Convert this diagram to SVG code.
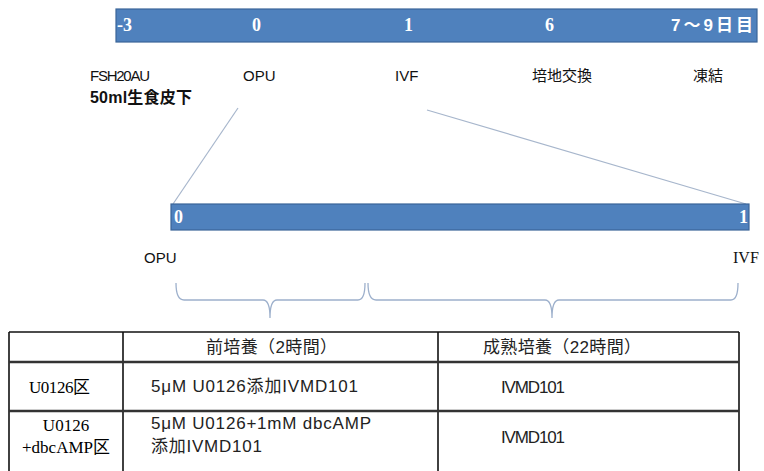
<svg xmlns="http://www.w3.org/2000/svg" width="764" height="471" viewBox="0 0 764 471">
<style>
.bar{fill:#4f81bd;stroke:#3b6598;stroke-width:1.2}
.num{font-family:"Liberation Serif","Noto Sans CJK JP",serif;font-weight:bold;fill:#ffffff;font-size:18px}
.numj{font-family:"Liberation Sans","Noto Sans CJK JP",sans-serif;font-weight:bold;fill:#ffffff;font-size:17px}
.lbl{font-family:"Liberation Sans","Noto Sans CJK JP",sans-serif;fill:#111;font-size:15px}
.lblb{font-family:"Liberation Sans","Noto Sans CJK JP",sans-serif;fill:#111;font-size:16px;font-weight:bold}
.lbls{font-family:"Liberation Serif","Noto Sans CJK JP",serif;fill:#111;font-size:16px}
.conn{stroke:#a7b6cc;stroke-width:1.2;fill:none}
.brace{stroke:#9db0cc;stroke-width:1.3;fill:none}
.tb{font-family:"Liberation Sans","Noto Sans CJK JP",sans-serif;fill:#222;font-size:17px}
.tbs{font-family:"Liberation Serif","Noto Sans CJK JP",serif;fill:#000;font-size:17px}
.grid{stroke:#111;stroke-width:1.6;fill:none}
.gridh{stroke:#333;stroke-width:2.6;fill:none}
</style>
<rect width="764" height="471" fill="#ffffff"/>
<g id="timeline-top">
<rect class="bar" x="116" y="9" width="641" height="33"/>
<text class="num" x="117" y="31">-3</text>
<text class="num" x="252" y="31">0</text>
<text class="num" x="404" y="31">1</text>
<text class="num" x="545" y="31">6</text>
<text class="numj" x="671" y="31" textLength="82">7～9日目</text>
</g>
<g id="labels-top">
<text class="lbl" x="90" y="81" textLength="60">FSH20AU</text>
<text class="lblb" x="90" y="103" textLength="102">50ml生食皮下</text>
<text class="lbl" x="243" y="81">OPU</text>
<text class="lbl" x="395" y="81">IVF</text>
<text class="lbl" x="532" y="81">培地交換</text>
<text class="lbl" x="693" y="81">凍結</text>
</g>
<g id="connectors">
<line class="conn" x1="238" y1="108" x2="173" y2="204"/>
<line class="conn" x1="427" y1="110" x2="746" y2="204"/>
</g>
<g id="timeline-bottom">
<rect class="bar" x="171" y="204" width="578" height="26"/>
<text class="num" x="174" y="223" font-size="16">0</text>
<text class="num" x="739" y="223" font-size="16">1</text>
</g>
<g id="labels-bottom">
<text class="lbl" x="144" y="263" font-size="16">OPU</text>
<text class="lbls" x="733" y="263">IVF</text>
</g>
<g id="braces">
<path class="brace" d="M176,283 Q176,300 184,300 L263,300 Q270,300 270,318 Q270,300 277,300 L358,300 Q365,300 365,283"/>
<path class="brace" d="M368,283 Q368,300 376,300 L545,300 Q552,300 552,318 Q552,300 559,300 L731,300 Q738,300 738,283"/>
</g>
<g id="table">
<line class="grid" x1="9" y1="332" x2="739" y2="332"/>
<line class="grid" x1="9" y1="332" x2="9" y2="475"/>
<line class="grid" x1="739" y1="332" x2="739" y2="475"/>
<line class="grid" x1="123" y1="332" x2="123" y2="475"/>
<line class="grid" x1="438" y1="332" x2="438" y2="475"/>
<line class="gridh" x1="9" y1="362" x2="739" y2="362"/>
<line class="gridh" x1="9" y1="411" x2="739" y2="411"/>
<text class="tb" x="206" y="353" textLength="131">前培養（2時間）</text>
<text class="tb" x="483" y="353" textLength="158">成熟培養（22時間）</text>
<text class="tbs" x="29" y="393" textLength="61">U0126区</text>
<text class="tb" x="151" y="392" textLength="207">5μM U0126添加IVMD101</text>
<text class="tb" x="501" y="393" textLength="64">IVMD101</text>
<text class="tbs" x="66" y="431" text-anchor="middle">U0126</text>
<text class="tbs" x="66" y="453" text-anchor="middle">+dbcAMP区</text>
<text class="tb" x="151" y="429" textLength="220">5μM U0126+1mM dbcAMP</text>
<text class="tb" x="151" y="452" textLength="111">添加IVMD101</text>
<text class="tb" x="501" y="443" textLength="64">IVMD101</text>
</g>
</svg>
